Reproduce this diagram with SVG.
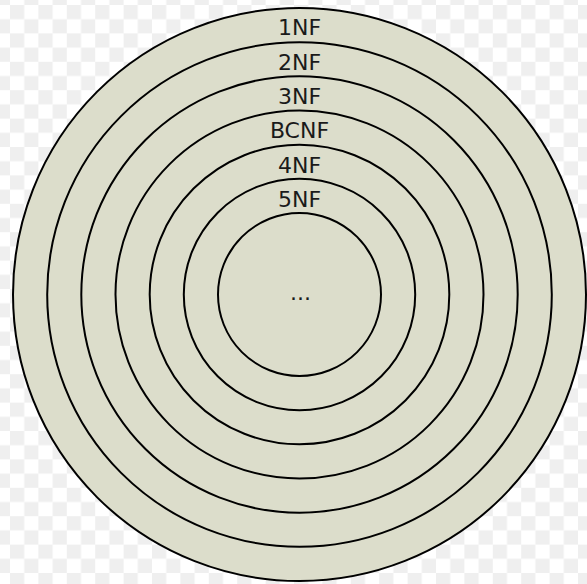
<svg xmlns="http://www.w3.org/2000/svg" width="587" height="584" viewBox="0 0 587 584">
<defs>
<pattern id="checker" x="10" y="5" width="28.4" height="28.4" patternUnits="userSpaceOnUse">
<rect x="0" y="0" width="14.2" height="14.2" fill="#efefef"/>
<rect x="14.2" y="14.2" width="14.2" height="14.2" fill="#efefef"/>
</pattern>
</defs>
<style>
.ring{fill:#dcddcb;stroke:#000;stroke-width:2}
.lbl{font-family:"DejaVu Sans","Liberation Sans",sans-serif;font-size:22px;fill:#1a1a1a;text-anchor:middle}
</style>
<rect x="0" y="0" width="587" height="584" fill="#ffffff"/>
<rect x="0" y="0" width="587" height="584" fill="url(#checker)"/>
<g id="nf1"><circle class="ring" cx="299.5" cy="294.5" r="286.5"/><text class="lbl" x="299.5" y="35">1NF</text></g>
<g id="nf2"><circle class="ring" cx="299.5" cy="294.5" r="252.3"/><text class="lbl" x="299.5" y="69.5">2NF</text></g>
<g id="nf3"><circle class="ring" cx="299.5" cy="294.5" r="218.2"/><text class="lbl" x="299.5" y="104">3NF</text></g>
<g id="bcnf"><circle class="ring" cx="299.5" cy="294.5" r="184"/><text class="lbl" x="299.5" y="138">BCNF</text></g>
<g id="nf4"><circle class="ring" cx="299.5" cy="294.5" r="149.8"/><text class="lbl" x="299.5" y="172.5">4NF</text></g>
<g id="nf5"><circle class="ring" cx="299.5" cy="294.5" r="115.7"/><text class="lbl" x="299.5" y="207">5NF</text></g>
<g id="more"><circle class="ring" cx="299.5" cy="294.5" r="81.5"/><text class="lbl" x="300.5" y="300">...</text></g>
<g id="connectors"/>
</svg>
